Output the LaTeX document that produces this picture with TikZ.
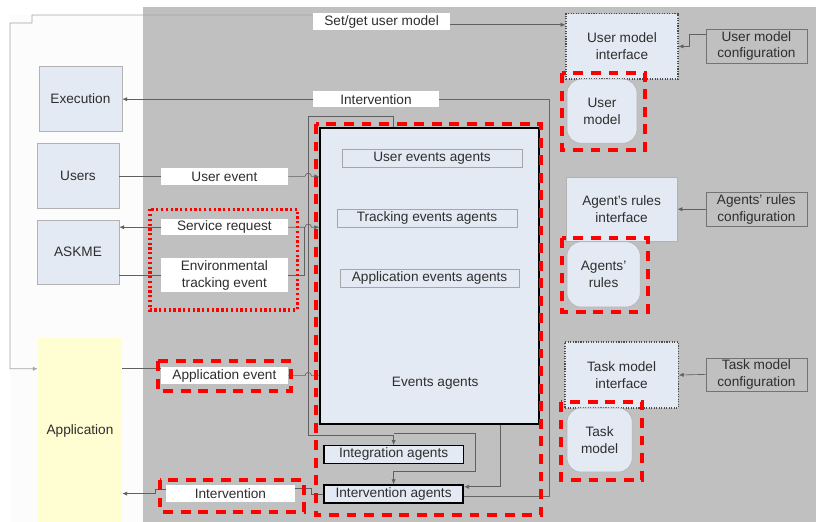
\documentclass[tikz,border=0pt]{standalone}
\usepackage{fontspec}
\setmainfont{Liberation Sans}
\usetikzlibrary{arrows.meta, calc}
\definecolor{panelgray}{HTML}{C0C0C0}
\definecolor{boxblue}{HTML}{E4EAF4}
\definecolor{appyellow}{HTML}{FFFDD2}
\definecolor{linegray}{HTML}{606060}
\definecolor{textgray}{HTML}{2E2E2E}

\begin{document}
\begin{tikzpicture}[
    font=\fontsize{9.7}{12}\selectfont, text=textgray,
    box/.style={draw=gray!60, fill=boxblue, inner sep=0pt, align=center},
    lbl/.style={fill=white, inner sep=0pt, minimum width=3.18cm, minimum height=0.43cm, align=center},
    cfg/.style={draw=gray!90!black, inner sep=0pt, minimum width=2.53cm, minimum height=0.85cm, align=center},
    iface/.style={box, draw=black!70, densely dotted, thick, minimum width=2.8cm, minimum height=1.63cm},
    store/.style={box, rounded corners=0.35cm, minimum height=1.6cm},
    agent/.style={draw=black, fill=boxblue, inner sep=0pt, minimum width=3.48cm, minimum height=0.44cm},
    sub/.style={draw=gray!70, fill=boxblue, inner sep=0pt, minimum width=4.5cm, minimum height=0.44cm},
    conn/.style={draw=linegray, line width=0.45pt},
    arr/.style={conn, -{Latex[length=3.5pt, width=3pt]}},
    reddash/.style={draw=red, line width=2.8pt, dash pattern=on 7pt off 5.5pt},
    reddot/.style={draw=red, line width=2.4pt, dash pattern=on 1.6pt off 1.8pt}
]
    % --- Background panels ---
    \useasboundingbox (0,0) rectangle (20.4,-13.05);
    \fill[black!1] (0.25,-0.375) rectangle (3.575,-13.05);
    \fill[panelgray] (3.575,-0.175) rectangle (20.4,-13.05);

    % --- Left column: environment ---
    \node[box, minimum width=2.08cm, minimum height=1.63cm] (exec) at (2.01,-2.46) {Execution};
    \node[box, minimum width=2.05cm, minimum height=1.63cm] (users) at (1.95,-4.39) {Users};
    \node[box, minimum width=2.05cm, minimum height=1.6cm] (askme) at (1.95,-6.3) {ASKME};
    \node[box, draw=none, fill=appyellow, minimum width=2.1cm, minimum height=4.65cm] (app) at (2,-10.775) {Application};

    % --- Message labels ---
    \node[lbl, minimum width=3.43cm] (lblSet) at (9.54,-0.54) {Set/get user model};
    \node[lbl, minimum width=3.15cm, minimum height=0.4cm] (lblIntTop) at (9.4,-2.48) {Intervention};
    \node[lbl] (lblUser) at (5.61,-4.41) {User event};
    \node[lbl, minimum height=0.4cm] (lblSrv) at (5.61,-5.68) {Service request};
    \node[lbl, minimum height=0.85cm] (lblEnv) at (5.61,-6.88) {Environmental\\tracking event};
    \node[lbl] (lblApp) at (5.61,-9.39) {Application event};
    \node[lbl, minimum width=3.23cm] (lblIntBot) at (5.76,-12.34) {Intervention};
    \coordinate (appRow) at ([yshift=0.17cm]lblApp.west);

    % --- Events agents block ---
    \node[draw=black, line width=1.1pt, fill=boxblue, inner sep=0pt, minimum width=5.48cm, minimum height=7.4cm] (evts) at (10.74,-6.9) {};
    \node (evtxt) at (10.88,-9.58) {Events agents};
    \node[sub] (uea) at (10.8,-3.95) {User events agents};
    \node[sub] (tea) at (10.675,-5.46) {Tracking events agents};
    \node[sub, minimum width=4.48cm] (aea) at (10.74,-6.95) {Application events agents};
    \node[agent, line width=0.8pt] (intg) at (9.84,-11.36) {Integration agents};
    \node[agent, line width=1.3pt] (intv) at (9.84,-12.35) {Intervention agents};

    % --- Right column: models and configuration ---
    \node[iface] (umi) at (15.55,-1.16) {User model\\interface};
    \node[cfg] (umc) at (18.91,-1.15) {User model\\configuration};
    \node[store, minimum width=1.75cm] (um) at (15.05,-2.78) {User\\model};
    \node[box, minimum width=2.78cm, minimum height=1.6cm] (ari) at (15.54,-5.23) {Agent's rules\\interface};
    \node[cfg] (arc) at (18.91,-5.23) {Agents' rules\\configuration};
    \node[store, minimum width=1.83cm, minimum height=1.63cm] (ar) at (15.09,-6.86) {Agents'\\rules};
    \node[iface, minimum width=2.83cm, minimum height=1.65cm] (tmi) at (15.54,-9.375) {Task model\\interface};
    \node[cfg, minimum height=0.83cm] (tmc) at (18.91,-9.36) {Task model\\configuration};
    \node[store, minimum width=1.63cm] (tm) at (14.99,-11) {Task\\model};

    % --- Connectors ---
    \draw[arr, draw=gray!70] ([yshift=0.165cm]lblSet.west) -- (0.8,-0.375) -- (0.8,-0.575) -- (0.25,-0.575) -- (0.25,-9.22) -- (app.west |- appRow);
    \draw[arr] ([yshift=-0.08cm]lblSet.east) -- ([yshift=-0.08cm]lblSet.east -| umi.west);
    \draw[conn, draw=gray!80!black] ([yshift=-0.05cm]intv.east) -- ++(2.12,0) |- (lblIntTop.east);
    \draw[arr] (lblIntTop.west) -- (lblIntTop.west -| exec.east);
    \draw[conn] (users.east |- lblUser.west) -- (lblUser.west);
    \draw[arr] (lblUser.east) -- ($(lblUser.east)+(0.42,0)$) arc[start angle=180, end angle=0, radius=0.08cm] -- (lblUser.east -| evts.west);
    \draw[arr] (lblSrv.west) -- (lblSrv.west -| askme.east);
    \draw[arr] (lblSrv.east) -- ($(lblSrv.east)+(0.42,0)$) arc[start angle=180, end angle=0, radius=0.08cm] -- (lblSrv.east -| evts.west);
    \draw[conn] (askme.east |- lblEnv.west) -- (lblEnv.west);
    \draw[conn] (lblEnv.east) -| ($(lblSrv.east)+(0.4,0)$);
    \draw[conn] (app.east |- appRow) -- (appRow);
    \draw[arr] (lblApp.east) -- ($(lblApp.east)+(0.42,0)$) arc[start angle=180, end angle=0, radius=0.08cm] -- (lblApp.east -| evts.west);
    \draw[arr] (intg.north |- evts.north) -- ++(0,0.28) -- ++(-2.12,0) -- ++(0,-7.97) -| (intg.north);
    \draw[arr] ([yshift=0.3cm]intg.north) -| ++(2.04,-0.955) -| (intv.north);
    \draw[arr] ([xshift=1.78cm]evts.south) |- ([yshift=0.18cm]intv.east);
    \draw[conn] (intv.west) -- ++(-0.3,0) |- ([yshift=0.13cm]lblIntBot.east);
    \draw[arr] ([yshift=0.1cm]lblIntBot.west) -- ++(-0.25,0) |- (app.east |- lblIntBot.west);
    \draw[arr] ([yshift=0.3cm]umc.west) -- ++(-0.4,0) |- (umi.east);
    \draw[arr] (arc.west) -- (ari.east);
    \draw[arr] (tmc.west) -- (tmi.east);

    % --- Red highlight frames ---
    \draw[reddot] (3.75,-5.23) rectangle (7.43,-7.75);
    \draw[reddash] (3.95,-9.03) rectangle (7.28,-9.78);
    \draw[reddash] (4,-12) rectangle (7.6,-12.8);
    \draw[reddash] (7.9,-3.1) rectangle (13.53,-12.88);
    \draw[reddash] (14.05,-1.83) rectangle (16.13,-3.75);
    \draw[reddash] (14.05,-5.95) rectangle (16.2,-7.8);
    \draw[reddash] (14.03,-10.05) rectangle (16.05,-12);
\end{tikzpicture}
\end{document}
